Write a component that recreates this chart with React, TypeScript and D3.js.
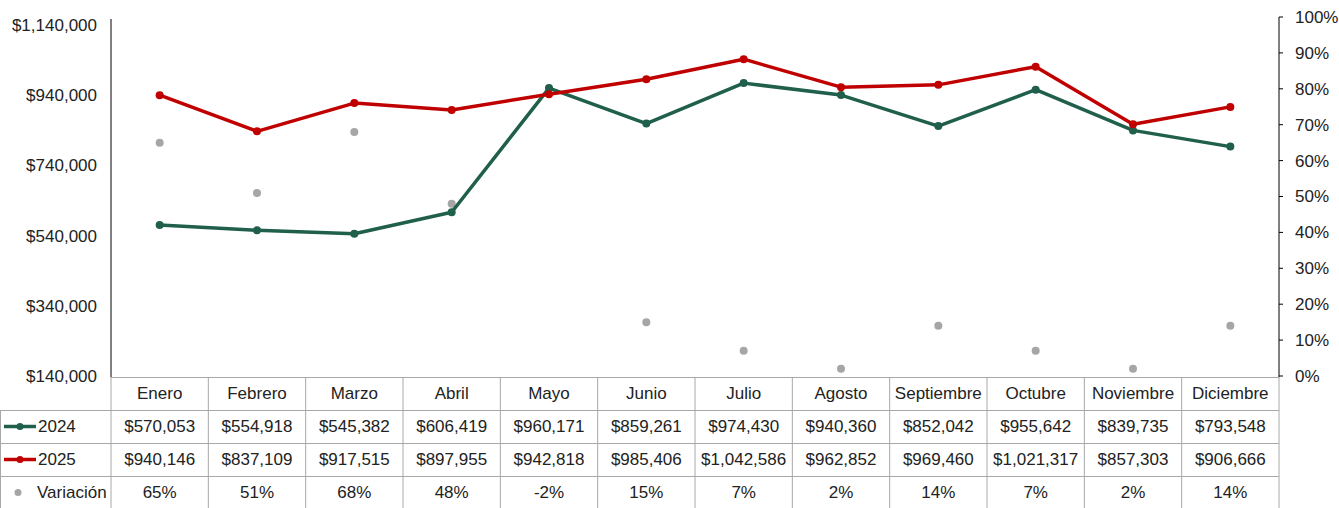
import React from "react";
import * as d3 from "d3";

const width = 1339;
const height = 508;

// datos
const meses = ["Enero", "Febrero", "Marzo", "Abril", "Mayo", "Junio", "Julio", "Agosto", "Septiembre", "Octubre", "Noviembre", "Diciembre"];
const ventas2024 = [570053, 554918, 545382, 606419, 960171, 859261, 974430, 940360, 852042, 955642, 839735, 793548];
const ventas2025 = [940146, 837109, 917515, 897955, 942818, 985406, 1042586, 962852, 969460, 1021317, 857303, 906666];
const variacion = [0.65, 0.51, 0.68, 0.48, -0.02, 0.15, 0.07, 0.02, 0.14, 0.07, 0.02, 0.14];
const ticksIzq = [140000, 340000, 540000, 740000, 940000, 1140000];
const ticksDer = [0, 0.1, 0.2, 0.3, 0.4, 0.5, 0.6, 0.7, 0.8, 0.9, 1];

const verde = "#1f5f4b";
const rojo = "#c00000";
const gris = "#a6a6a6";
const borde = "#a8a8a8";
const font = "'Liberation Sans Narrow', 'Arial Narrow', sans-serif";
const fs = 17;

const left = 111;
const right = 1279;
const plotTop = 17;
const plotBottom = 377;
const rowH = 33;

const loc = d3.formatLocale({ decimal: ".", thousands: ",", grouping: [3], currency: ["$", ""], minus: "-" });

export default function App() {
  const x = d3.scaleBand<string>().domain(meses).range([left, right]);
  const yL = d3.scaleLinear().domain([140000, 1140000]).range([376, 25]);
  const yR = d3.scaleLinear().domain([0, 1]).range([376, plotTop]);
  const cx = (m: string) => (x(m) as number) + x.bandwidth() / 2;

  const fmt = loc.format("$,");
  const pct = loc.format(".0%");

  const line = (vals: number[]) =>
    d3.line<number>().x((_, i) => cx(meses[i])).y((d) => yL(d))(vals) as string;

  const rows = [plotBottom, plotBottom + rowH, plotBottom + 2 * rowH, plotBottom + 3 * rowH, height];

  return (
    <svg width={width} height={height} style={{ position: "absolute", left: 0, top: 0, background: "#fff" }} fontFamily={font} fontSize={fs}>
      {/* eje izquierdo */}
      <line x1={left} x2={left} y1={19} y2={plotBottom} stroke="#000" strokeWidth={1} />
      {ticksIzq.map((t) => (
        <text key={t} x={97} y={yL(t)} textAnchor="end" dy="0.35em" fill="#222">
          {fmt(t)}
        </text>
      ))}
      {/* eje derecho */}
      <line x1={right} x2={right} y1={plotTop} y2={plotBottom} stroke="#000" strokeWidth={1} />
      {ticksDer.map((t) => (
        <g key={t}>
          <line x1={right} x2={right + 4} y1={yR(t)} y2={yR(t)} stroke="#000" />
          <text x={1295} y={yR(t)} dy="0.35em" fill="#222">
            {pct(t)}
          </text>
        </g>
      ))}

      {/* tabla */}
      <g stroke={borde} strokeWidth={1} fill="none">
        {rows.map((yy, i) => (
          <line key={i} x1={i === 0 ? left : 0} x2={right} y1={yy + 0.5} y2={yy + 0.5} />
        ))}
        <line x1={0.5} x2={0.5} y1={plotBottom + rowH} y2={height} />
        {d3.range(13).map((i) => {
          const xx = left + i * x.bandwidth();
          return <line key={i} x1={xx} x2={xx} y1={plotBottom} y2={height} />;
        })}
      </g>
      {meses.map((m, i) => (
        <g key={m} fill="#222" textAnchor="middle">
          <text x={cx(m)} y={plotBottom + rowH / 2} dy="0.35em">{m}</text>
          <text x={cx(m)} y={plotBottom + rowH * 1.5} dy="0.35em">{fmt(ventas2024[i])}</text>
          <text x={cx(m)} y={plotBottom + rowH * 2.5} dy="0.35em">{fmt(ventas2025[i])}</text>
          <text x={cx(m)} y={plotBottom + rowH * 3.5} dy="0.35em">{pct(variacion[i])}</text>
        </g>
      ))}
      {/* leyenda en la tabla */}
      <g>
        <line x1={4} x2={36} y1={plotBottom + rowH * 1.5} y2={plotBottom + rowH * 1.5} stroke={verde} strokeWidth={3.5} />
        <circle cx={20} cy={plotBottom + rowH * 1.5} r={3.5} fill={verde} />
        <text x={38} y={plotBottom + rowH * 1.5} dy="0.35em" fill="#222">2024</text>
        <line x1={4} x2={36} y1={plotBottom + rowH * 2.5} y2={plotBottom + rowH * 2.5} stroke={rojo} strokeWidth={3.5} />
        <circle cx={20} cy={plotBottom + rowH * 2.5} r={3.5} fill={rojo} />
        <text x={38} y={plotBottom + rowH * 2.5} dy="0.35em" fill="#222">2025</text>
        <circle cx={18} cy={plotBottom + rowH * 3.5} r={3.5} fill={gris} />
        <text x={37} y={plotBottom + rowH * 3.5} dy="0.35em" fill="#222">Variación</text>
      </g>

      {/* series */}
      <defs>
        <clipPath id="area">
          <rect x={left} y={plotTop - 10} width={right - left} height={plotBottom - plotTop + 10} />
        </clipPath>
      </defs>
      <g clipPath="url(#area)">
        {variacion.map((v, i) => (
          <circle key={i} cx={cx(meses[i])} cy={yR(v)} r={4} fill={gris} />
        ))}
        <path d={line(ventas2024)} fill="none" stroke={verde} strokeWidth={3.5} strokeLinejoin="round" />
        {ventas2024.map((v, i) => (
          <circle key={i} cx={cx(meses[i])} cy={yL(v)} r={4} fill={verde} />
        ))}
        <path d={line(ventas2025)} fill="none" stroke={rojo} strokeWidth={3.5} strokeLinejoin="round" />
        {ventas2025.map((v, i) => (
          <circle key={i} cx={cx(meses[i])} cy={yL(v)} r={4} fill={rojo} />
        ))}
      </g>
    </svg>
  );
}
